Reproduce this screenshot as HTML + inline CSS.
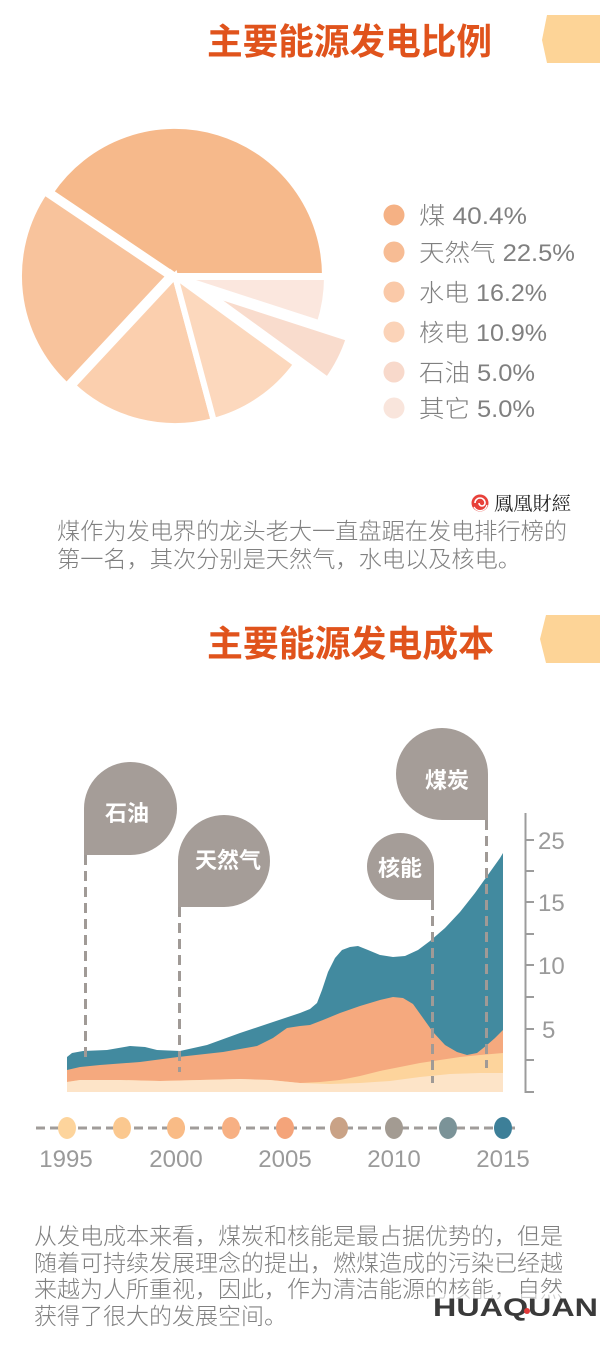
<!DOCTYPE html>
<html>
<head>
<meta charset="utf-8">
<style>
html,body{margin:0;padding:0;background:#fff;}
body{width:600px;height:1351px;overflow:hidden;}
svg{display:block;}
</style>
</head>
<body>
<svg width="600" height="1351" viewBox="0 0 600 1351" xmlns="http://www.w3.org/2000/svg">
  <rect width="600" height="1351" fill="#ffffff"/>

  <!-- Title 1 -->
  <text x="207" y="54" font-family="'Liberation Sans','Noto Sans CJK SC',sans-serif" font-size="36" font-weight="bold" fill="#e0531c" textLength="285" lengthAdjust="spacingAndGlyphs">主要能源发电比例</text>
  <polygon points="547,15 600,15 600,63 547,63 542,40" fill="#fdd497"/>

  <!-- Pie -->
  <g stroke="#ffffff" stroke-width="6" stroke-linejoin="miter">
    <path d="M175,276 L325,276 A150,150 0 0 0 50.6,192.1 Z" fill="#f6b98b"/>
    <path d="M175,276 L50.6,192.1 A150,150 0 0 0 72.7,385.7 Z" fill="#f8c39c" transform="translate(-6,0)"/>
    <path d="M175,276 L72.7,385.7 A150,150 0 0 0 213.8,420.9 Z" fill="#fbcfae"/>
    <path d="M175,276 L213.8,420.9 A150,150 0 0 0 296.4,364.2 Z" fill="#fcd8bd"/>
    <path d="M206.2,291.9 L327.6,380.1 A150,150 0 0 0 348.9,338.3 Z" fill="#f9dccd"/>
    <path d="M175,276 L317.7,322.4 A150,150 0 0 0 325,276 Z" fill="#fbe7de" transform="translate(2,1)"/>
  </g>

  <!-- Legend -->
  <g>
    <circle cx="394" cy="215" r="10.5" fill="#f5b184"/>
    <circle cx="394" cy="252" r="10.5" fill="#f7bc94"/>
    <circle cx="394" cy="292" r="10.5" fill="#fac9a8"/>
    <circle cx="394" cy="332" r="10.5" fill="#fbd3b8"/>
    <circle cx="394" cy="372" r="10.5" fill="#f8d9cb"/>
    <circle cx="394" cy="408" r="10.5" fill="#f9e5dc"/>
  </g>
  <g font-family="'Liberation Sans','Noto Sans CJK SC',sans-serif" font-size="24" fill="#808080" font-weight="300">
    <text x="419" y="224" textLength="108" lengthAdjust="spacingAndGlyphs">煤 40.4%</text>
    <text x="419" y="261" textLength="156" lengthAdjust="spacingAndGlyphs">天然气 22.5%</text>
    <text x="419" y="301" textLength="128" lengthAdjust="spacingAndGlyphs">水电 16.2%</text>
    <text x="419" y="341" textLength="128" lengthAdjust="spacingAndGlyphs">核电 10.9%</text>
    <text x="419" y="381" textLength="116" lengthAdjust="spacingAndGlyphs">石油 5.0%</text>
    <text x="419" y="417" textLength="116" lengthAdjust="spacingAndGlyphs">其它 5.0%</text>
  </g>

  <!-- Phoenix logo -->
  <g>
    <circle cx="480" cy="503" r="8.5" fill="#e8413a"/>
    <path d="M475,503 A5,5 0 0 1 485,503 A3,3 0 0 1 479,503" fill="none" stroke="#ffffff" stroke-width="1.6"/>
    <path d="M474,507 A7,7 0 0 0 487,505" fill="none" stroke="#ffffff" stroke-width="1.3"/>
    <text x="494" y="510" font-family="'Liberation Serif','Noto Serif CJK SC',serif" font-size="19" fill="#222222" textLength="77" lengthAdjust="spacingAndGlyphs">鳳凰財經</text>
  </g>

  <!-- Paragraph 1 -->
  <g font-family="'Liberation Sans','Noto Sans CJK SC',sans-serif" font-size="23" fill="#808080" font-weight="300">
    <text x="57" y="539" textLength="510" lengthAdjust="spacingAndGlyphs">煤作为发电界的龙头老大一直盘踞在发电排行榜的</text>
    <text x="57" y="567" textLength="464" lengthAdjust="spacingAndGlyphs">第一名，其次分别是天然气，水电以及核电。</text>
  </g>

  <!-- Title 2 -->
  <text x="207" y="656" font-family="'Liberation Sans','Noto Sans CJK SC',sans-serif" font-size="36" font-weight="bold" fill="#e0531c" textLength="287" lengthAdjust="spacingAndGlyphs">主要能源发电成本</text>
  <polygon points="546,615 600,615 600,663 546,663 540,639" fill="#fdd497"/>

  <!-- Area chart -->
  <path d="M67,1092 L67,1057 L72,1053 L83,1051 L107,1050 L130,1046 L145,1047 L157,1050 L180,1051 L207,1045 L240,1033 L273,1022 L300,1013 L310,1009 L317,1003 L322,990 L328,972 L335,958 L342,950 L350,947 L358,946 L368,950 L380,955 L393,957 L405,956 L418,950 L430,941 L445,928 L460,912 L475,893 L490,872 L500,858 L503,853 L503,1092 Z" fill="#428a9f"/>
  <path d="M67,1092 L67,1070 L80,1067 L100,1065 L140,1062 L178,1057 L223,1052 L257,1046 L273,1038 L287,1028 L300,1026 L310,1025 L323,1020 L340,1013 L360,1006 L380,1000 L393,997 L403,998 L413,1004 L423,1018 L433,1032 L445,1045 L457,1052 L467,1055 L477,1053 L487,1045 L495,1038 L503,1030 L503,1092 Z" fill="#f5a97e"/>
  <path d="M67,1092 L67,1082 L80,1080 L120,1080 L160,1081 L200,1080 L240,1079 L270,1080 L300,1083 L320,1082 L340,1080 L360,1076 L380,1071 L400,1067 L420,1063 L440,1060 L460,1057 L480,1055 L503,1053 L503,1092 Z" fill="#fdd49c"/>
  <path d="M67,1092 L67,1082 L80,1080 L120,1080 L160,1081 L200,1080 L240,1079 L270,1080 L300,1083 L330,1084 L360,1083 L390,1081 L420,1077 L450,1074 L480,1073 L503,1073 L503,1092 Z" fill="#fde4c8"/>

  <!-- Dashed verticals -->
  <g stroke="#a09a96" stroke-width="3" stroke-dasharray="10 6" fill="none">
    <line x1="85.5" y1="855" x2="85.5" y2="1062"/>
    <line x1="179.5" y1="907" x2="179.5" y2="1072"/>
    <line x1="432.5" y1="900" x2="432.5" y2="1083"/>
    <line x1="486.5" y1="820" x2="486.5" y2="1068"/>
  </g>

  <!-- Bubbles -->
  <g fill="#a59d98">
    <path d="M84,855 L84,808.5 A46.5,46.5 0 0 1 177,808.5 A46.5,46.5 0 0 1 130.5,855 Z"/>
    <path d="M178,907 L178,861 A46,46 0 0 1 270,861 A46,46 0 0 1 224,907 Z"/>
    <path d="M434,900 L400.5,900 A33.5,33.5 0 0 1 367,866.5 A33.5,33.5 0 0 1 434,866.5 Z"/>
    <path d="M488,820 L442,820 A46,46 0 0 1 396,774 A46,46 0 0 1 488,774 Z"/>
  </g>
  <g font-family="'Liberation Sans','Noto Sans CJK SC',sans-serif" font-size="22" font-weight="bold" fill="#ffffff" text-anchor="middle">
    <text x="127" y="821">石油</text>
    <text x="228" y="868">天然气</text>
    <text x="400" y="876">核能</text>
    <text x="447" y="788">煤炭</text>
  </g>

  <!-- Right axis -->
  <g stroke="#9c9c9c" stroke-width="2">
    <line x1="525.5" y1="813" x2="525.5" y2="1093"/>
    <line x1="525" y1="840" x2="534" y2="840"/>
    <line x1="525" y1="871" x2="534" y2="871"/>
    <line x1="525" y1="902" x2="534" y2="902"/>
    <line x1="525" y1="934" x2="534" y2="934"/>
    <line x1="525" y1="965" x2="534" y2="965"/>
    <line x1="525" y1="997" x2="534" y2="997"/>
    <line x1="525" y1="1029" x2="534" y2="1029"/>
    <line x1="525" y1="1060" x2="534" y2="1060"/>
    <line x1="525" y1="1092" x2="534" y2="1092"/>
  </g>
  <g font-family="'Liberation Sans',sans-serif" font-size="24" fill="#9a9a9a">
    <text x="538" y="849">25</text>
    <text x="538" y="911">15</text>
    <text x="538" y="974">10</text>
    <text x="542" y="1038">5</text>
  </g>

  <!-- Bottom dashed axis -->
  <line x1="36" y1="1128" x2="515" y2="1128" stroke="#a09c9a" stroke-width="3" stroke-dasharray="9 5"/>
  <g>
    <ellipse cx="67" cy="1128" rx="9" ry="11" fill="#fdd49c"/>
    <ellipse cx="122" cy="1128" rx="9" ry="11" fill="#fbc88f"/>
    <ellipse cx="176" cy="1128" rx="9" ry="11" fill="#f9bb86"/>
    <ellipse cx="231" cy="1128" rx="9" ry="11" fill="#f7b083"/>
    <ellipse cx="285" cy="1128" rx="9" ry="11" fill="#f4a47a"/>
    <ellipse cx="339" cy="1128" rx="9" ry="11" fill="#c9a286"/>
    <ellipse cx="394" cy="1128" rx="9" ry="11" fill="#a39b92"/>
    <ellipse cx="448" cy="1128" rx="9" ry="11" fill="#7b9398"/>
    <ellipse cx="503" cy="1128" rx="9" ry="11" fill="#3d7f98"/>
  </g>
  <g font-family="'Liberation Sans',sans-serif" font-size="24" fill="#9a9a9a" text-anchor="middle">
    <text x="66" y="1167">1995</text>
    <text x="176" y="1167">2000</text>
    <text x="285" y="1167">2005</text>
    <text x="394" y="1167">2010</text>
    <text x="503" y="1167">2015</text>
  </g>

  <!-- Paragraph 2 -->
  <g font-family="'Liberation Sans','Noto Sans CJK SC',sans-serif" font-size="23" fill="#808080" font-weight="300">
    <text x="34" y="1244" textLength="529" lengthAdjust="spacingAndGlyphs">从发电成本来看，煤炭和核能是最占据优势的，但是</text>
    <text x="34" y="1271" textLength="529" lengthAdjust="spacingAndGlyphs">随着可持续发展理念的提出，燃煤造成的污染已经越</text>
    <text x="34" y="1297" textLength="529" lengthAdjust="spacingAndGlyphs">来越为人所重视，因此，作为清洁能源的核能，自然</text>
    <text x="34" y="1324" textLength="253" lengthAdjust="spacingAndGlyphs">获得了很大的发展空间。</text>
  </g>

  <!-- HUAQUAN logo -->
  <rect x="430" y="1294" width="170" height="24" fill="#ffffff" opacity="0.6"/>
  <text x="433" y="1316" font-family="'Liberation Sans',sans-serif" font-size="25" font-weight="bold" fill="#3a3a3a" textLength="165" lengthAdjust="spacingAndGlyphs">HUAQUAN</text>
  <circle cx="527" cy="1311" r="3" fill="#e23b3b"/>
</svg>
</body>
</html>
